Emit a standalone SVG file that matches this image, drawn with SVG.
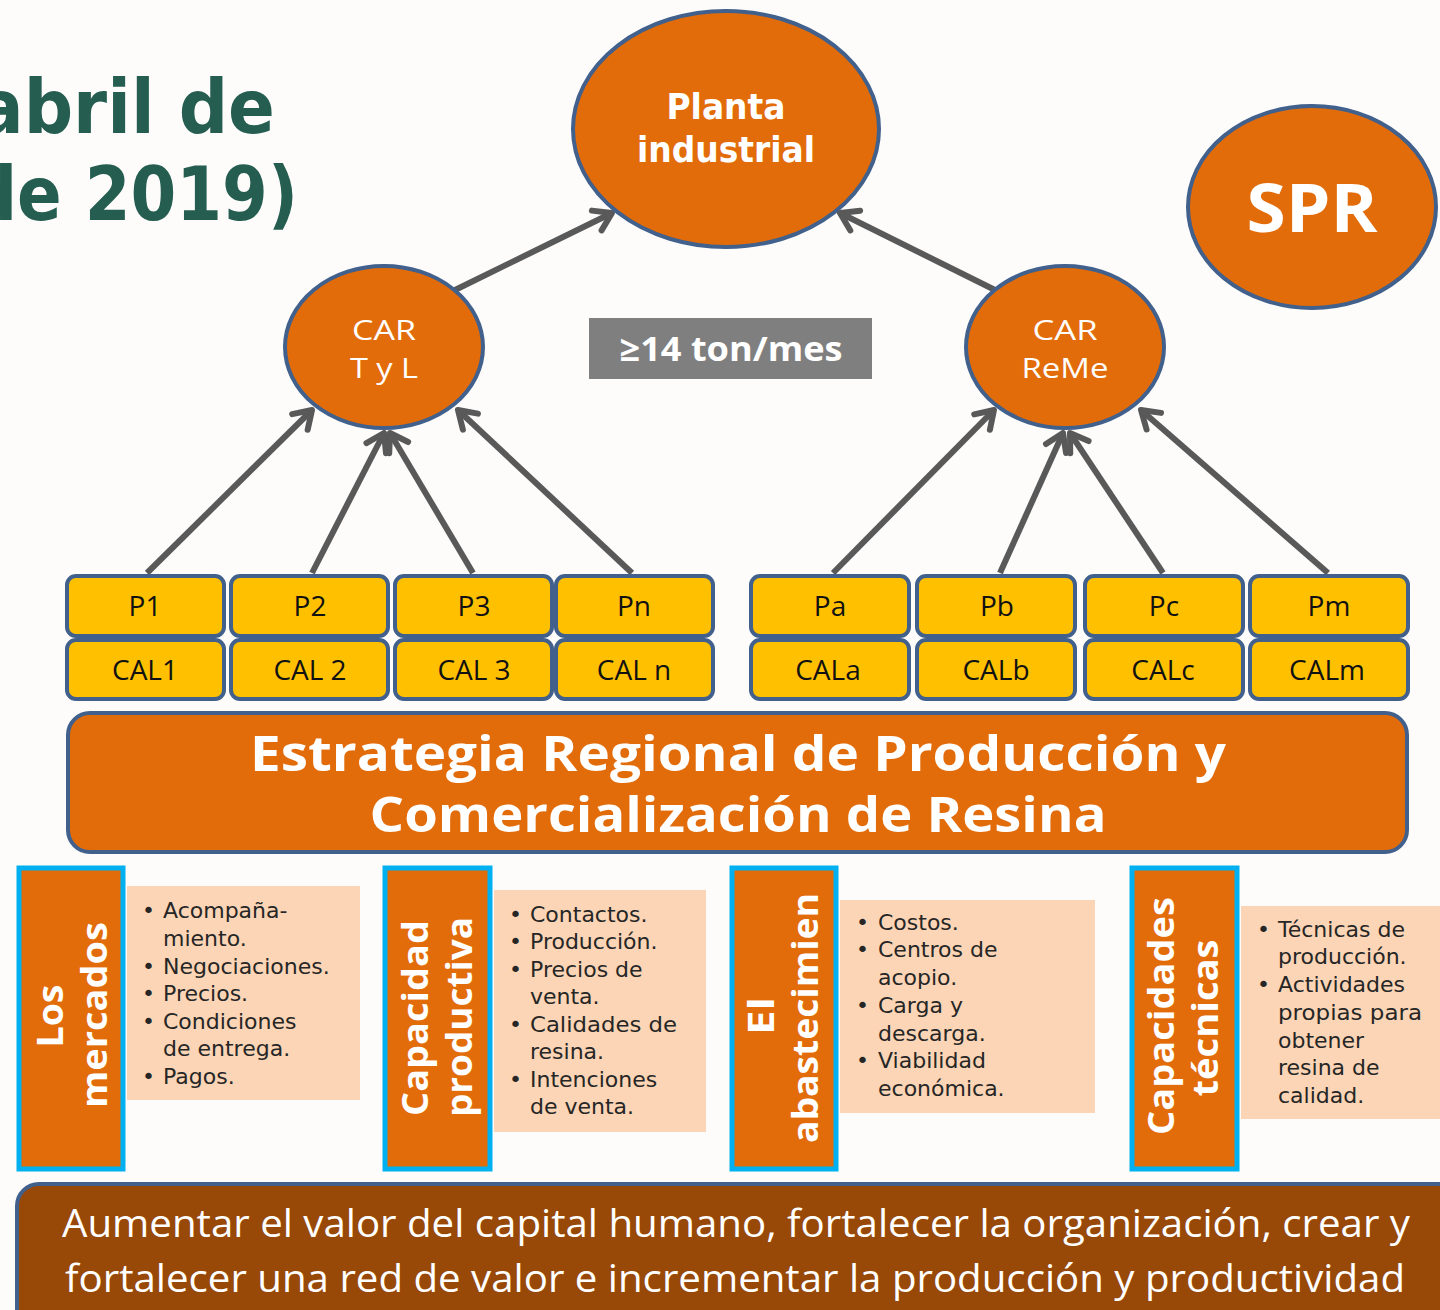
<svg xmlns="http://www.w3.org/2000/svg" width="1440" height="1310" viewBox="0 0 1440 1310">
<style>
.bg{fill:#FDFCFB}
.title{font-family:"DejaVu Sans","Open Sans",sans-serif;font-weight:700;font-size:74px;fill:#255E50}
.oval{fill:#E36C0A;stroke:#41608C;stroke-width:4}
.wb{font-family:"Open Sans","Liberation Sans",sans-serif;font-weight:700;fill:#FFFFFF;text-anchor:middle}
.wd{font-family:"DejaVu Sans","Open Sans",sans-serif;font-weight:700;fill:#FFFFFF;text-anchor:middle}
.wl{font-family:"Open Sans","Liberation Sans",sans-serif;font-weight:400;fill:#FFFFFF;text-anchor:middle;font-size:28px}
.pbox{fill:#FFC000;stroke:#41608C;stroke-width:4}
.pt{font-family:"Open Sans","Liberation Sans",sans-serif;font-size:28px;fill:#111;text-anchor:middle}
.cat{fill:#E36C0A;stroke:#00B0F0;stroke-width:5}
.peach{fill:#FBD5B5}
.bt{font-family:"DejaVu Sans","Open Sans",sans-serif;font-size:22px;fill:#262626}
.conn line{stroke:#595959;stroke-width:6;marker-end:url(#arr)}
</style>
<defs>
<marker id="arr" markerUnits="userSpaceOnUse" markerWidth="40" markerHeight="40" viewBox="-25 -20 30 40" refX="0" refY="0" orient="auto">
<path d="M-17,-11 L0,0 L-17,11" fill="none" stroke="#595959" stroke-width="6" stroke-linecap="round" stroke-linejoin="round"/>
</marker>
</defs>
<rect class="bg" x="0" y="0" width="1440" height="1310"/>

<g id="title">
<text class="title" x="275" y="133" text-anchor="end" textLength="298" lengthAdjust="spacingAndGlyphs">abril de</text>
<text class="title" x="298" y="220" text-anchor="end" textLength="328" lengthAdjust="spacingAndGlyphs">de 2019)</text>
</g>

<g class="conn" id="connectors">
<line x1="455" y1="290" x2="612" y2="213"/>
<line x1="995" y1="290" x2="840" y2="213"/>
<line x1="147" y1="573" x2="312" y2="410"/>
<line x1="312" y1="573" x2="384" y2="433"/>
<line x1="473" y1="573" x2="390" y2="433"/>
<line x1="632" y1="573" x2="458" y2="410"/>
<line x1="833" y1="573" x2="994" y2="410"/>
<line x1="1000" y1="573" x2="1063" y2="433"/>
<line x1="1163" y1="573" x2="1070" y2="433"/>
<line x1="1328" y1="573" x2="1141" y2="410"/>
</g>

<g id="planta">
<ellipse class="oval" cx="726" cy="129" rx="153" ry="118"/>
<text class="wd" x="726" y="119" font-size="35" textLength="119" lengthAdjust="spacingAndGlyphs">Planta</text>
<text class="wd" x="726" y="162" font-size="35" textLength="178" lengthAdjust="spacingAndGlyphs">industrial</text>
</g>

<g id="spr">
<ellipse class="oval" cx="1312" cy="207" rx="124" ry="101"/>
<text class="wb" x="1312" y="232" font-size="66" textLength="131" lengthAdjust="spacingAndGlyphs">SPR</text>
</g>

<g id="car-tyl">
<ellipse class="oval" cx="384" cy="347" rx="99" ry="81"/>
<text class="wl" x="384" y="340" textLength="64" lengthAdjust="spacingAndGlyphs">CAR</text>
<text class="wl" x="384" y="378" textLength="68" lengthAdjust="spacingAndGlyphs">T y L</text>
</g>

<g id="car-reme">
<ellipse class="oval" cx="1065" cy="347" rx="99" ry="81"/>
<text class="wl" x="1065" y="340" textLength="65" lengthAdjust="spacingAndGlyphs">CAR</text>
<text class="wl" x="1065" y="378" textLength="87" lengthAdjust="spacingAndGlyphs">ReMe</text>
</g>

<g id="ton">
<rect x="589" y="318" width="283" height="61" fill="#7F7F7F"/>
<text class="wb" x="731" y="361" font-size="34" textLength="223" lengthAdjust="spacingAndGlyphs">≥14 ton/mes</text>
</g>

<g id="p1"><rect class="pbox" x="67" y="576" width="157" height="60" rx="9"/><text class="pt" x="145" y="616">P1</text></g>
<g id="p2"><rect class="pbox" x="231" y="576" width="157" height="60" rx="9"/><text class="pt" x="310" y="616">P2</text></g>
<g id="p3"><rect class="pbox" x="395" y="576" width="157" height="60" rx="9"/><text class="pt" x="474" y="616">P3</text></g>
<g id="pn"><rect class="pbox" x="556" y="576" width="157" height="60" rx="9"/><text class="pt" x="634" y="616">Pn</text></g>
<g id="cal1"><rect class="pbox" x="67" y="640" width="157" height="59" rx="9"/><text class="pt" x="145" y="680">CAL1</text></g>
<g id="cal2"><rect class="pbox" x="231" y="640" width="157" height="59" rx="9"/><text class="pt" x="310" y="680">CAL 2</text></g>
<g id="cal3"><rect class="pbox" x="395" y="640" width="157" height="59" rx="9"/><text class="pt" x="474" y="680">CAL 3</text></g>
<g id="caln"><rect class="pbox" x="556" y="640" width="157" height="59" rx="9"/><text class="pt" x="634" y="680">CAL n</text></g>

<g id="pa"><rect class="pbox" x="751" y="576" width="158" height="60" rx="9"/><text class="pt" x="830" y="616">Pa</text></g>
<g id="pb"><rect class="pbox" x="917" y="576" width="158" height="60" rx="9"/><text class="pt" x="997" y="616">Pb</text></g>
<g id="pc"><rect class="pbox" x="1085" y="576" width="158" height="60" rx="9"/><text class="pt" x="1164" y="616">Pc</text></g>
<g id="pm"><rect class="pbox" x="1250" y="576" width="158" height="60" rx="9"/><text class="pt" x="1329" y="616">Pm</text></g>
<g id="cala"><rect class="pbox" x="751" y="640" width="158" height="59" rx="9"/><text class="pt" x="828" y="680">CALa</text></g>
<g id="calb"><rect class="pbox" x="917" y="640" width="158" height="59" rx="9"/><text class="pt" x="996" y="680">CALb</text></g>
<g id="calc"><rect class="pbox" x="1085" y="640" width="158" height="59" rx="9"/><text class="pt" x="1163" y="680">CALc</text></g>
<g id="calm"><rect class="pbox" x="1250" y="640" width="158" height="59" rx="9"/><text class="pt" x="1327" y="680">CALm</text></g>

<g id="estrategia">
<rect x="68" y="713" width="1339" height="139" rx="22" fill="#E36C0A" stroke="#41608C" stroke-width="4"/>
<text class="wb" x="738" y="771" font-size="48" textLength="976" lengthAdjust="spacingAndGlyphs">Estrategia Regional de Producción y</text>
<text class="wb" x="738" y="832" font-size="48" textLength="737" lengthAdjust="spacingAndGlyphs">Comercialización de Resina</text>
</g>

<g id="mercados">
<rect class="cat" x="19" y="868" width="104" height="301"/>
<text class="wb" font-size="36" transform="translate(63,1016) rotate(-90)" textLength="63" lengthAdjust="spacingAndGlyphs">Los</text>
<text class="wb" font-size="36" transform="translate(107,1015) rotate(-90)" textLength="186" lengthAdjust="spacingAndGlyphs">mercados</text>
<rect class="peach" x="127" y="886" width="233" height="214"/>
<text class="bt" x="142" y="918">•</text><text class="bt" x="163" y="918">Acompaña-</text>
<text class="bt" x="163" y="946">miento.</text>
<text class="bt" x="142" y="974">•</text><text class="bt" x="163" y="974">Negociaciones.</text>
<text class="bt" x="142" y="1001">•</text><text class="bt" x="163" y="1001">Precios.</text>
<text class="bt" x="142" y="1029">•</text><text class="bt" x="163" y="1029">Condiciones</text>
<text class="bt" x="163" y="1056">de entrega.</text>
<text class="bt" x="142" y="1084">•</text><text class="bt" x="163" y="1084">Pagos.</text>
</g>

<g id="productiva">
<rect class="cat" x="385" y="868" width="105" height="301"/>
<text class="wb" font-size="36" transform="translate(428,1018) rotate(-90)" textLength="196" lengthAdjust="spacingAndGlyphs">Capacidad</text>
<text class="wb" font-size="36" transform="translate(472,1017) rotate(-90)" textLength="200" lengthAdjust="spacingAndGlyphs">productiva</text>
<rect class="peach" x="494" y="890" width="212" height="242"/>
<text class="bt" x="509" y="922">•</text><text class="bt" x="530" y="922">Contactos.</text>
<text class="bt" x="509" y="949">•</text><text class="bt" x="530" y="949">Producción.</text>
<text class="bt" x="509" y="977">•</text><text class="bt" x="530" y="977">Precios de</text>
<text class="bt" x="530" y="1004">venta.</text>
<text class="bt" x="509" y="1032">•</text><text class="bt" x="530" y="1032" textLength="147" lengthAdjust="spacingAndGlyphs">Calidades de</text>
<text class="bt" x="530" y="1059">resina.</text>
<text class="bt" x="509" y="1087">•</text><text class="bt" x="530" y="1087">Intenciones</text>
<text class="bt" x="530" y="1114">de venta.</text>
</g>

<g id="abastecimiento">
<rect class="cat" x="732" y="868" width="104" height="301"/>
<text class="wb" font-size="36" transform="translate(774,1016) rotate(-90)" textLength="38" lengthAdjust="spacingAndGlyphs">El</text>
<text class="wb" font-size="36" transform="translate(818,1018) rotate(-90)" textLength="250" lengthAdjust="spacingAndGlyphs">abastecimien</text>
<rect class="peach" x="840" y="900" width="255" height="213"/>
<text class="bt" x="856" y="930">•</text><text class="bt" x="878" y="930">Costos.</text>
<text class="bt" x="856" y="957">•</text><text class="bt" x="878" y="957">Centros de</text>
<text class="bt" x="878" y="985">acopio.</text>
<text class="bt" x="856" y="1013">•</text><text class="bt" x="878" y="1013">Carga y</text>
<text class="bt" x="878" y="1041">descarga.</text>
<text class="bt" x="856" y="1068">•</text><text class="bt" x="878" y="1068">Viabilidad</text>
<text class="bt" x="878" y="1096">económica.</text>
</g>

<g id="tecnicas">
<rect class="cat" x="1132" y="868" width="105" height="301"/>
<text class="wb" font-size="36" transform="translate(1174,1016) rotate(-90)" textLength="238" lengthAdjust="spacingAndGlyphs">Capacidades</text>
<text class="wb" font-size="36" transform="translate(1218,1018) rotate(-90)" textLength="157" lengthAdjust="spacingAndGlyphs">técnicas</text>
<rect class="peach" x="1241" y="906" width="199" height="213"/>
<text class="bt" x="1257" y="937">•</text><text class="bt" x="1278" y="937">Técnicas de</text>
<text class="bt" x="1278" y="964">producción.</text>
<text class="bt" x="1257" y="992">•</text><text class="bt" x="1278" y="992">Actividades</text>
<text class="bt" x="1278" y="1020" textLength="144" lengthAdjust="spacingAndGlyphs">propias para</text>
<text class="bt" x="1278" y="1048">obtener</text>
<text class="bt" x="1278" y="1075">resina de</text>
<text class="bt" x="1278" y="1103">calidad.</text>
</g>

<g id="objetivo">
<rect x="17" y="1184" width="1450" height="150" rx="22" fill="#984807" stroke="#41608C" stroke-width="4"/>
<text x="62" y="1237" font-family="'Open Sans','Liberation Sans',sans-serif" font-size="38" fill="#FFFFFF" textLength="1348" lengthAdjust="spacingAndGlyphs">Aumentar el valor del capital humano, fortalecer la organización, crear y</text>
<text x="65" y="1292" font-family="'Open Sans','Liberation Sans',sans-serif" font-size="38" fill="#FFFFFF" textLength="1340" lengthAdjust="spacingAndGlyphs">fortalecer una red de valor e incrementar la producción y productividad</text>
</g>
</svg>
